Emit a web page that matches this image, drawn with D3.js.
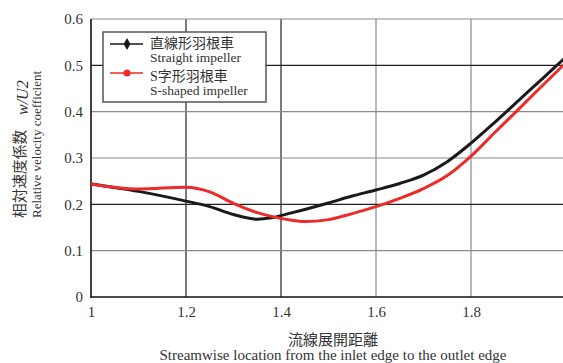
<!DOCTYPE html>
<html>
<head>
<meta charset="utf-8">
<script src="https://cdn.jsdelivr.net/npm/d3@7"></script>
<style>
  html, body { margin: 0; padding: 0; background: #fff; }
  svg { display: block; }
  text { font-family: "Liberation Serif", "DejaVu Serif", "Noto Sans CJK JP", serif; fill: #333; }
  .cjk { font-family: "Noto Sans CJK JP", sans-serif; }
</style>
</head>
<body>
<svg id="chart" width="563" height="363"></svg>
<script>
// Streamwise positions (inlet edge = 1, outlet edge = 2)
const positions = [1.0, 1.1, 1.2, 1.25, 1.3, 1.35, 1.38, 1.42, 1.45, 1.5, 1.55, 1.6, 1.65, 1.7, 1.75, 1.8, 1.85, 1.9, 1.95, 2.0];
// Relative velocity coefficient w/U2 — straight impeller
const straightValues = [0.244, 0.228, 0.207, 0.195, 0.178, 0.168, 0.171, 0.181, 0.189, 0.203, 0.218, 0.231, 0.245, 0.263, 0.292, 0.332, 0.377, 0.424, 0.471, 0.518];
// Relative velocity coefficient w/U2 — S-shaped impeller
const sShapedValues = [0.244, 0.233, 0.237, 0.227, 0.202, 0.182, 0.174, 0.166, 0.163, 0.167, 0.180, 0.195, 0.213, 0.234, 0.262, 0.304, 0.355, 0.405, 0.456, 0.506];

const xTicks = [1, 1.2, 1.4, 1.6, 1.8, 2];
const yTicks = [0, 0.1, 0.2, 0.3, 0.4, 0.5, 0.6];
const darkXGrid = [1.2, 1.4];
const darkYGrid = [0.2, 0.5];

const seriesNames = ["直線形羽根車", "S字形羽根車"];
const seriesSubNames = ["Straight impeller", "S-shaped impeller"];
const seriesColors = ["#1a1a1a", "#ee2a2a"];

const svg = d3.select("#chart");

const x = d3.scaleLinear().domain([1, 2]).range([91, 566]);
const y = d3.scaleLinear().domain([0, 0.6]).range([297, 19]);

// Grid lines
const grid = svg.append("g");
grid.selectAll("line.vx")
  .data(xTicks.filter(d => d > 1))
  .join("line")
  .attr("x1", d => x(d)).attr("x2", d => x(d))
  .attr("y1", y(0)).attr("y2", y(0.6))
  .attr("stroke", d => darkXGrid.includes(d) ? "#222" : "#8a8a8a")
  .attr("stroke-width", 1.2);
grid.selectAll("line.hy")
  .data(yTicks.filter(d => d > 0))
  .join("line")
  .attr("x1", x(1)).attr("x2", 563)
  .attr("y1", d => y(d)).attr("y2", d => y(d))
  .attr("stroke", d => darkYGrid.includes(d) ? "#222" : "#8a8a8a")
  .attr("stroke-width", 1.2);

// Axes (no tick marks, labels only)
const xAxis = d3.axisBottom(x).tickValues(xTicks.filter(d => d < 2)).tickSize(0).tickPadding(9)
  .tickFormat(d => d3.format("")(d));
const gx = svg.append("g").attr("transform", `translate(0,${y(0)})`).call(xAxis);
gx.select(".domain").remove();
gx.selectAll("text").attr("font-size", 15).style("font-family", "Liberation Serif, serif").attr("fill", "#333");

const yAxis = d3.axisLeft(y).tickValues(yTicks).tickSize(0).tickPadding(8)
  .tickFormat(d => d3.format("")(d));
const gy = svg.append("g").attr("transform", `translate(${x(1)},0)`).call(yAxis);
gy.select(".domain").remove();
gy.selectAll("text").attr("font-size", 15).style("font-family", "Liberation Serif, serif").attr("fill", "#333");

svg.append("line")
  .attr("x1", x(1)).attr("x2", x(1)).attr("y1", y(0.6)).attr("y2", y(0) + 1)
  .attr("stroke", "#111").attr("stroke-width", 1.6);
svg.append("line")
  .attr("x1", x(1)).attr("x2", 563).attr("y1", y(0)).attr("y2", y(0))
  .attr("stroke", "#111").attr("stroke-width", 1.6);

// Curves
const line = d3.line()
  .x((d, i) => x(positions[i]))
  .y(d => y(d))
  .curve(d3.curveMonotoneX);

[straightValues, sShapedValues].forEach((vals, k) => {
  svg.append("path")
    .datum(vals)
    .attr("fill", "none")
    .attr("stroke", seriesColors[k])
    .attr("stroke-width", 3)
    .attr("stroke-linejoin", "round")
    .attr("d", line);
});

// Legend
const legend = svg.append("g");
legend.append("rect")
  .attr("x", 103).attr("y", 32).attr("width", 163).attr("height", 70)
  .attr("fill", "#fff").attr("stroke", "#555").attr("stroke-width", 1.5);

const legendRows = [44, 73];
const nameBaselines = [47.5, 80.5];
const subBaselines = [61.5, 94.5];
legendRows.forEach((ly, k) => {
  legend.append("line")
    .attr("x1", 110).attr("x2", 143).attr("y1", ly).attr("y2", ly)
    .attr("stroke", seriesColors[k]).attr("stroke-width", 1.5);
  if (k === 0) {
    legend.append("path")
      .attr("d", d3.symbol().type(d3.symbolDiamond).size(40)())
      .attr("transform", `translate(127,${ly})`)
      .attr("fill", seriesColors[k]);
  } else {
    legend.append("circle")
      .attr("cx", 127).attr("cy", ly).attr("r", 3.6)
      .attr("fill", seriesColors[k]);
  }
  legend.append("text")
    .attr("x", 150).attr("y", nameBaselines[k])
    .attr("font-size", 14)
    .style("font-family", "Liberation Serif, Noto Sans CJK JP, serif")
    .text(seriesNames[k]);
  legend.append("text")
    .attr("x", 150).attr("y", subBaselines[k])
    .attr("font-size", 13.5)
    .text(seriesSubNames[k]);
});

// Axis titles
svg.append("text")
  .attr("class", "cjk")
  .attr("x", 333).attr("y", 345)
  .attr("text-anchor", "middle")
  .attr("font-size", 15)
  .text("流線展開距離");
svg.append("text")
  .attr("x", 333).attr("y", 360)
  .attr("text-anchor", "middle")
  .attr("font-size", 15)
  .text("Streamwise location from the inlet edge to the outlet edge");

// Vertical axis title, written bottom-to-top
const yTitle = svg.append("g").attr("transform", "rotate(-90)");
yTitle.append("text")
  .attr("class", "cjk")
  .attr("x", -218).attr("y", 25)
  .attr("font-size", 14.7)
  .text("相対速度係数");
yTitle.append("text")
  .attr("x", -115).attr("y", 28)
  .attr("font-size", 16)
  .attr("font-style", "italic")
  .text("w/U2");
yTitle.append("text")
  .attr("x", -218).attr("y", 41)
  .attr("font-size", 13)
  .text("Relative velocity coefficient");
</script>
</body>
</html>
